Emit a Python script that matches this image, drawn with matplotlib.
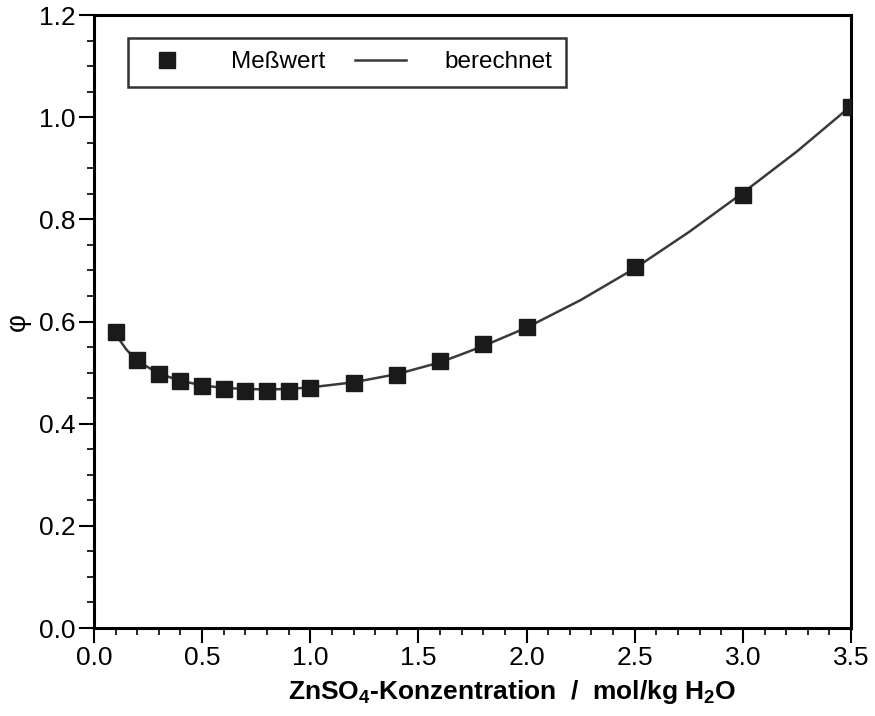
import matplotlib
matplotlib.use("Agg")
import matplotlib.pyplot as plt
from matplotlib.ticker import MultipleLocator, FormatStrFormatter

plt.rcParams['font.family'] = ['Liberation Sans', 'DejaVu Sans']
plt.rcParams['mathtext.fontset'] = 'custom'
plt.rcParams['mathtext.rm'] = 'Liberation Sans:bold'
plt.rcParams['mathtext.default'] = 'rm'

# measured osmotic coefficients
conc_meas = [0.1, 0.2, 0.3, 0.4, 0.5, 0.6, 0.7, 0.8, 0.9, 1.0,
             1.2, 1.4, 1.6, 1.8, 2.0, 2.5, 3.0, 3.5]
phi_meas = [0.579, 0.524, 0.497, 0.484, 0.474, 0.467, 0.464, 0.464, 0.464, 0.469,
            0.479, 0.496, 0.522, 0.556, 0.589, 0.706, 0.847, 1.020]

# calculated curve
conc_calc = [0.1, 0.15, 0.2, 0.3, 0.4, 0.5, 0.6, 0.7, 0.8, 0.9, 1.0,
             1.2, 1.4, 1.6, 1.8, 2.0, 2.25, 2.5, 2.75, 3.0, 3.25, 3.5]
phi_calc = [0.575, 0.545, 0.523, 0.498, 0.484, 0.475, 0.470, 0.468, 0.467, 0.468, 0.471,
            0.481, 0.497, 0.520, 0.552, 0.588, 0.642, 0.704, 0.775, 0.852, 0.933, 1.022]

fig = plt.figure(figsize=(8.75, 7.16), dpi=100)
ax = fig.add_axes([0.1074, 0.1229, 0.8652, 0.8561])

ax.plot(conc_calc, phi_calc, '-', color='#3a3a3a', linewidth=1.8, label='berechnet', zorder=2)
ax.plot(conc_meas, phi_meas, 's', color='#1a1a1a', markersize=11.5, label='Meßwert', zorder=3)

ax.set_xlim(0, 3.5)
ax.set_ylim(0, 1.2)
ax.xaxis.set_major_locator(MultipleLocator(0.5))
ax.xaxis.set_minor_locator(MultipleLocator(0.1))
ax.yaxis.set_major_locator(MultipleLocator(0.2))
ax.yaxis.set_minor_locator(MultipleLocator(0.05))
ax.xaxis.set_major_formatter(FormatStrFormatter('%.1f'))
ax.yaxis.set_major_formatter(FormatStrFormatter('%.1f'))

for s in ax.spines.values():
    s.set_linewidth(2.2)
ax.tick_params(which='major', direction='out', length=11, width=1.5, labelsize=19, pad=2)
ax.tick_params(which='minor', direction='out', length=5, width=1.2)

ax.set_xlabel('ZnSO$_4$-Konzentration  /  mol/kg H$_2$O', fontsize=19, fontweight='bold')
ax.xaxis.set_label_coords(0.552, -0.082)
ax.set_ylabel('φ', fontsize=20, rotation=90, labelpad=6)

handles, labels = ax.get_legend_handles_labels()
leg = ax.legend(handles[::-1], labels[::-1], ncol=2, loc='upper left',
                bbox_to_anchor=(0.045, 0.9625), fontsize=17.5, frameon=True, fancybox=False,
                edgecolor='black', handlelength=2.1, handletextpad=1.6, columnspacing=1.2,
                borderpad=0.55, borderaxespad=0)
leg.get_frame().set_linewidth(1.8)

fig.savefig('out.png', dpi=100)
